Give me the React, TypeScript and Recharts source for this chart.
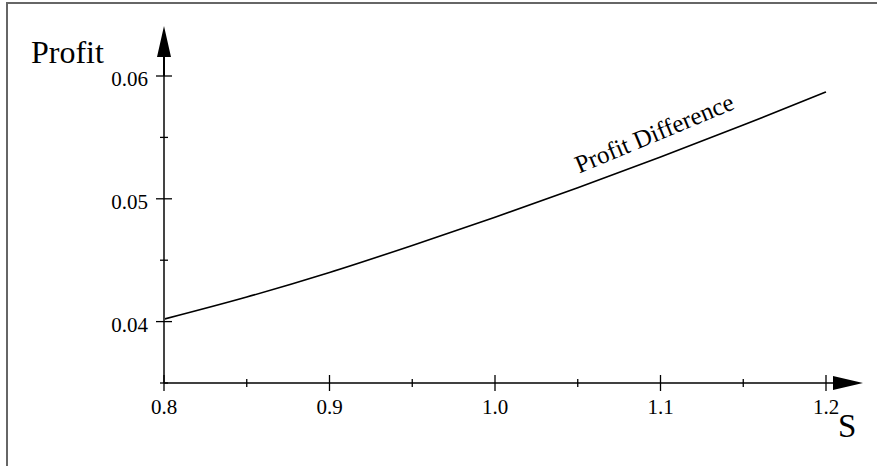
import { Label, Line, LineChart, XAxis, YAxis } from 'recharts';

const sValues = [0.8, 0.85, 0.9, 0.95, 1.0, 1.05, 1.1, 1.15, 1.2];
const profitDiff = [0.0402, 0.042, 0.044, 0.0462, 0.0485, 0.0509, 0.0534, 0.056, 0.0587];
const xTicks = [0.8, 0.85, 0.9, 0.95, 1.0, 1.05, 1.1, 1.15, 1.2];
const xLabelled = [0.8, 0.9, 1.0, 1.1, 1.2];
const yTicks = [0.035, 0.04, 0.045, 0.05, 0.055, 0.06];
const yLabelled = [0.04, 0.05, 0.06];

const data = sValues.map((s, i) => ({ s, diff: profitDiff[i] }));

const serif = '"Liberation Serif", "DejaVu Serif", serif';

const isMajor = (list: number[], v: number) => list.some((t) => Math.abs(t - v) < 1e-9);

function XTick({ x, y, payload }: any) {
  const major = isMajor(xLabelled, payload.value);
  const len = major ? 8 : 4;
  return (
    <g>
      <line x1={x} x2={x} y1={y - len} y2={y + len} stroke="#000" strokeWidth={1.3} />
      {major && (
        <text x={x} y={y + 31} textAnchor="middle" fontFamily={serif} fontSize={21} fill="#000">
          {payload.value.toFixed(1)}
        </text>
      )}
    </g>
  );
}

function YTick({ x, y, payload }: any) {
  const major = isMajor(yLabelled, payload.value);
  const len = major ? 8 : 4;
  return (
    <g>
      <line x1={x - len} x2={x + len} y1={y} y2={y} stroke="#000" strokeWidth={1.3} />
      {major && (
        <text x={x - 16} y={y + 10} textAnchor="end" fontFamily={serif} fontSize={21} fill="#000">
          {payload.value.toFixed(2)}
        </text>
      )}
    </g>
  );
}

// curve caption, hung off the point at S = 1.1
function CurveLabel({ x, y, index }: any) {
  if (index !== 6) return null;
  const cx = x - 3;
  const cy = y - 16;
  return (
    <text
      x={cx}
      y={cy}
      textAnchor="middle"
      fontFamily={serif}
      fontSize={25}
      fill="#000"
      transform={`rotate(-22.5, ${cx}, ${cy})`}
    >
      Profit Difference
    </text>
  );
}

export default function App() {
  return (
    <div style={{ position: 'absolute', left: 0, top: 0, width: 877, height: 466, background: '#fff' }}>
      <svg width={0} height={0} style={{ position: 'absolute' }}>
        <defs>
          <marker id="arrowX" markerUnits="userSpaceOnUse" viewBox="0 0 40 20" markerWidth={40} markerHeight={20} refX={0} refY={10} orient="auto">
            <path d="M0,9.25 L7,9.25 L7,3 L37,10 L7,17 L7,10.75 L0,10.75 Z" fill="#000" />
          </marker>
          <marker id="arrowY" markerUnits="userSpaceOnUse" viewBox="0 0 52 20" markerWidth={52} markerHeight={20} refX={0} refY={10} orient="auto-start-reverse">
            <path d="M0,9 L19,9 L19,3 L50,10 L19,17 L19,11 L0,11 Z" fill="#000" />
          </marker>
        </defs>
      </svg>
      <div
        style={{
          position: 'absolute',
          left: 6,
          top: 2,
          width: 871,
          height: 464,
          borderTop: '2px solid #666',
          borderLeft: '2px solid #666',
          boxSizing: 'border-box',
        }}
      />
      <div style={{ position: 'absolute', left: 0, top: 0 }}>
        <LineChart width={877} height={466} data={data} margin={{ top: 76, right: 51, bottom: 0, left: 0 }}>
          <XAxis
            dataKey="s"
            type="number"
            domain={[0.8, 1.2]}
            ticks={xTicks}
            height={83}
            tickSize={0}
            tickMargin={0}
            tickLine={false}
            tick={<XTick />}
            axisLine={{ stroke: '#000', strokeWidth: 1.5, markerEnd: 'url(#arrowX)' }}
            interval={0}
          >
            <Label
              content={() => (
                <text x={838} y={437} fontFamily={serif} fontSize={33} fill="#000">
                  S
                </text>
              )}
            />
          </XAxis>
          <YAxis
            type="number"
            domain={[0.035, 0.06]}
            ticks={yTicks}
            width={164}
            tickSize={0}
            tickMargin={0}
            tickLine={false}
            tick={<YTick />}
            axisLine={{ stroke: '#444', strokeWidth: 2, markerStart: 'url(#arrowY)' }}
            interval={0}
          >
            <Label
              content={() => (
                <text x={31} y={63} fontFamily={serif} fontSize={32} fill="#000">
                  Profit
                </text>
              )}
            />
          </YAxis>
          <Line
            type="monotone"
            dataKey="diff"
            stroke="#000"
            strokeWidth={1.6}
            dot={false}
            activeDot={false}
            isAnimationActive={false}
            label={<CurveLabel />}
          />
        </LineChart>
      </div>
    </div>
  );
}
